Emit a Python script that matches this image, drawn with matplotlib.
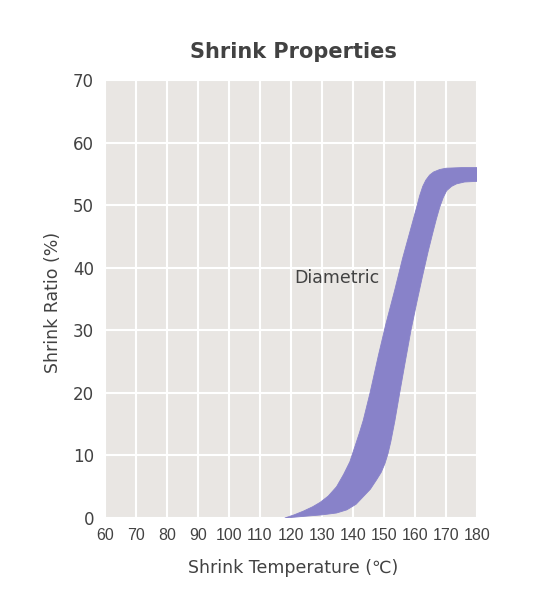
import matplotlib
matplotlib.use("Agg")
import matplotlib.pyplot as plt

# Data
upper_T = [118, 121, 124, 127, 129.4, 132, 134.7, 137, 139, 140.6, 142, 143.3, 145.5, 148.2, 150.6, 153.5, 156.0, 158.5, 160.5, 161.5, 162.5, 163.5, 164.7, 166, 168, 170, 175, 180]
upper_Y = [0, 0.5, 1.1, 1.8, 2.5, 3.5, 5.0, 7.0, 9.0, 11.4, 13.5, 15.6, 20.0, 26.0, 31.0, 36.5, 41.5, 46.0, 49.6, 51.5, 53.0, 54.0, 54.8, 55.3, 55.7, 55.9, 56.0, 56.0]
lower_T = [118, 125, 130, 134.7, 138, 141, 143.3, 145.6, 147.6, 149.1, 150.3, 151.3, 152.2, 153.5, 155.0, 156.8, 158.7, 160.6, 162.4, 164.2, 165.6, 166.9, 168.0, 169.1, 170.2, 171.8, 173.4, 176, 180]
lower_Y = [0, 0.3, 0.5, 0.8, 1.3, 2.2, 3.4, 4.6, 6.1, 7.3, 8.7, 10.3, 12.2, 15.5, 19.8, 24.8, 30.0, 34.5, 38.6, 42.5, 45.3, 47.8, 49.7, 51.2, 52.3, 53.0, 53.4, 53.7, 53.8]

x_ticks = list(range(60, 181, 10))
y_ticks = list(range(0, 71, 10))

title = "Shrink Properties"
xlabel = "Shrink Temperature (\u2103)"
ylabel = "Shrink Ratio (%)"
series_label = "Diametric"

text_color = "#424242"
band_color = "#8882c9"
bg_color = "#e9e6e3"
wide = ["DejaVu Sans"]

fig = plt.figure(figsize=(5.48, 6.03), dpi=100)
ax = fig.add_axes([105/548, 1 - 518/603, (477-105)/548, (518-80)/603])
ax.set_facecolor(bg_color)
ax.set_xlim(60, 180)
ax.set_ylim(0, 70)

ax.set_xticks(x_ticks)
ax.set_yticks(y_ticks)
ax.grid(True, color="white", linewidth=1.5)
ax.set_axisbelow(True)
for s in ax.spines.values():
    s.set_visible(False)
ax.tick_params(length=0, colors=text_color)
ax.tick_params(axis="x", pad=7)
ax.tick_params(axis="y", pad=8)

ax.set_xticklabels([str(t) for t in x_ticks],
                   family=["Liberation Sans Narrow", "Liberation Sans", "DejaVu Sans"],
                   fontsize=11.5, color=text_color)
ax.set_yticklabels([str(t) for t in y_ticks],
                   family=wide, fontsize=12, color=text_color)

poly_T = upper_T + lower_T[::-1]
poly_Y = upper_Y + lower_Y[::-1]
ax.fill(poly_T, poly_Y, color=band_color, linewidth=0.6, edgecolor=band_color, zorder=3)

ax.text(134.7, 38.3, series_label, ha="center", va="center", fontsize=12.5,
        color=text_color, family=wide, zorder=4)

fig.text(293/548, 1 - 52/603, title, ha="center", va="center", fontsize=15,
         fontweight="bold", color=text_color, family=wide)
fig.text(293/548, 1 - 568/603, xlabel, ha="center", va="center", fontsize=12.5,
         color=text_color, family=wide)
fig.text(53/548, 1 - 302/603, ylabel, ha="center", va="center", rotation=90,
         fontsize=12.5, color=text_color, family=wide)

fig.savefig("out.png", dpi=100, facecolor="white")
